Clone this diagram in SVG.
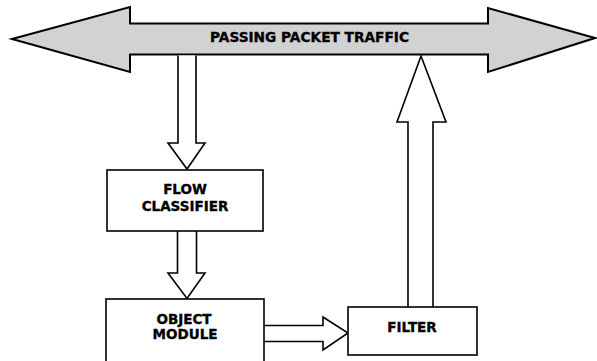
<svg xmlns="http://www.w3.org/2000/svg" width="597" height="361" viewBox="0 0 597 361">
  <style>
    .box { fill: #ffffff; stroke: #000000; stroke-width: 1.6; }
    .flow { fill: #ffffff; stroke: #000000; stroke-width: 1.6; stroke-linejoin: miter; }
    .bus { fill: #d2d2d2; stroke: #000000; stroke-width: 2; stroke-linejoin: miter; }
    .label { font-family: "DejaVu Sans", Verdana, sans-serif; font-weight: bold; font-size: 13.5px; fill: #000000; stroke: #000000; stroke-width: 0.35; text-anchor: middle; }
  </style>
  <rect width="597" height="361" fill="#ffffff"/>

  <!-- double-headed traffic bus -->
  <g id="traffic">
    <path class="bus" d="M12,39 L130,7 L130,23.5 L488,23.5 L488,8 L595,38 L488,72 L488,54.5 L130,54.5 L130,72 Z"/>
    <text class="label" x="309.5" y="42" textLength="199" lengthAdjust="spacingAndGlyphs">PASSING PACKET TRAFFIC</text>
  </g>

  <!-- block arrows between stages -->
  <g id="connectors">
    <path class="flow" d="M178,55.5 L178,143 L168,143 L187,169 L205,143 L196,143 L196,55.5"/>
    <path class="flow" d="M177.5,231 L177.5,273 L168,273 L187,298.5 L205,273 L196.5,273 L196.5,231"/>
    <path class="flow" d="M264,325.5 L323,325.5 L323,317 L348,333 L323,350 L323,341.5 L264,341.5"/>
    <path class="flow" d="M408,307 L408,122 L397,122 L421,56 L446,122 L433,122 L433,307"/>
  </g>

  <g id="flow-classifier">
    <rect class="box" x="107" y="170" width="156" height="61"/>
    <text class="label" x="185" y="194">FLOW</text>
    <text class="label" x="185" y="210.5">CLASSIFIER</text>
  </g>

  <g id="object-module">
    <rect class="box" x="106" y="299" width="158" height="70"/>
    <text class="label" x="184" y="324">OBJECT</text>
    <text class="label" x="185" y="339">MODULE</text>
  </g>

  <g id="filter">
    <rect class="box" x="348" y="307" width="129" height="48"/>
    <text class="label" x="412" y="332">FILTER</text>
  </g>
</svg>
